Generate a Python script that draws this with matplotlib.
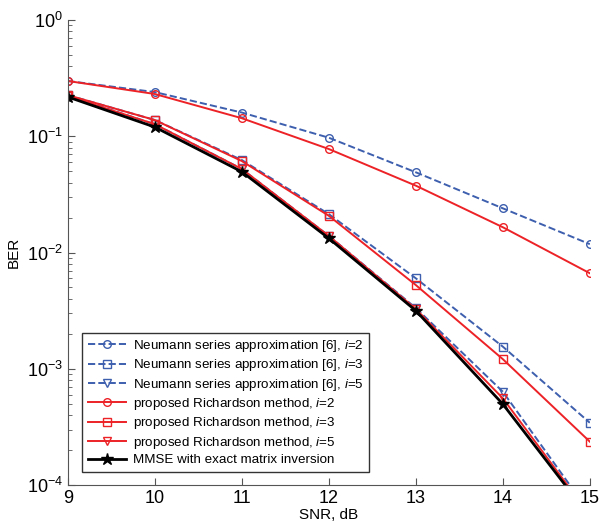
import numpy as np
import matplotlib
matplotlib.use('Agg')
from matplotlib import pyplot as plt

plt.rcParams['font.family'] = ['Liberation Sans', 'DejaVu Sans']
plt.rcParams['mathtext.fontset'] = 'custom'
plt.rcParams['mathtext.it'] = 'Liberation Sans:italic'
plt.rcParams['mathtext.rm'] = 'Liberation Sans'

snr = [9, 10, 11, 12, 13, 14, 15]

neumann_i2 = [0.299, 0.240, 0.160, 0.0972, 0.0490, 0.0240, 0.0118]
neumann_i3 = [0.226, 0.138, 0.0625, 0.0214, 0.0060, 0.00155, 0.000343]
neumann_i5 = [0.222, 0.127, 0.0523, 0.0139, 0.00333, 0.000635, 0.0000575]
rich_i2 = [0.299, 0.231, 0.143, 0.0777, 0.0376, 0.0165, 0.00663]
rich_i3 = [0.226, 0.138, 0.0612, 0.0207, 0.00525, 0.00121, 0.000236]
rich_i5 = [0.222, 0.127, 0.0523, 0.0139, 0.00327, 0.000557, 0.000055]
mmse = [0.218, 0.120, 0.0495, 0.01325, 0.00316, 0.000497, 0.000053]

blue = '#3d5fae'
red = '#ec2227'

fig = plt.figure(figsize=(6.0, 5.23), dpi=100)
ax = fig.add_axes([0.113, 0.0727, 0.870, 0.889])

ms = 5.5
ax.semilogy(snr, neumann_i2, '--', color=blue, marker='o', mfc='none', ms=ms, lw=1.4,
            label='Neumann series approximation [6], $i$=2')
ax.semilogy(snr, neumann_i3, '--', color=blue, marker='s', mfc='none', ms=ms, lw=1.4,
            label='Neumann series approximation [6], $i$=3')
ax.semilogy(snr, neumann_i5, '--', color=blue, marker='v', mfc='none', ms=ms, lw=1.4,
            label='Neumann series approximation [6], $i$=5')
ax.semilogy(snr, rich_i2, '-', color=red, marker='o', mfc='none', ms=ms, lw=1.4,
            label='proposed Richardson method, $i$=2')
ax.semilogy(snr, rich_i3, '-', color=red, marker='s', mfc='none', ms=ms, lw=1.4,
            label='proposed Richardson method, $i$=3')
ax.semilogy(snr, rich_i5, '-', color=red, marker='v', mfc='none', ms=ms, lw=1.4,
            label='proposed Richardson method, $i$=5')
ax.semilogy(snr, mmse, '-', color='black', marker='*', ms=9, lw=2,
            label='MMSE with exact matrix inversion')

ax.set_xlim(9, 15)
ax.set_ylim(1e-4, 1)
ax.set_xticks(snr)
ax.spines['top'].set_visible(False)
ax.spines['right'].set_visible(False)
ax.spines['left'].set_color('#555555')
ax.spines['bottom'].set_color('#555555')
ax.tick_params(which='both', direction='in', labelsize=13, colors='#555555', labelcolor='black')
ax.tick_params(which='major', length=5)
ax.tick_params(which='minor', length=3)

ax.set_xlabel('SNR, dB', fontsize=11, labelpad=1)
ax.set_ylabel('BER', fontsize=11, labelpad=4)

leg = ax.legend(loc='lower left', bbox_to_anchor=(0.015, 0.014), fontsize=9.6,
                frameon=True, fancybox=False, edgecolor='black', handlelength=2.9,
                borderpad=0.4, labelspacing=0.25, handletextpad=0.5)
leg.get_frame().set_linewidth(1.0)

fig.savefig('out.png', dpi=100)
